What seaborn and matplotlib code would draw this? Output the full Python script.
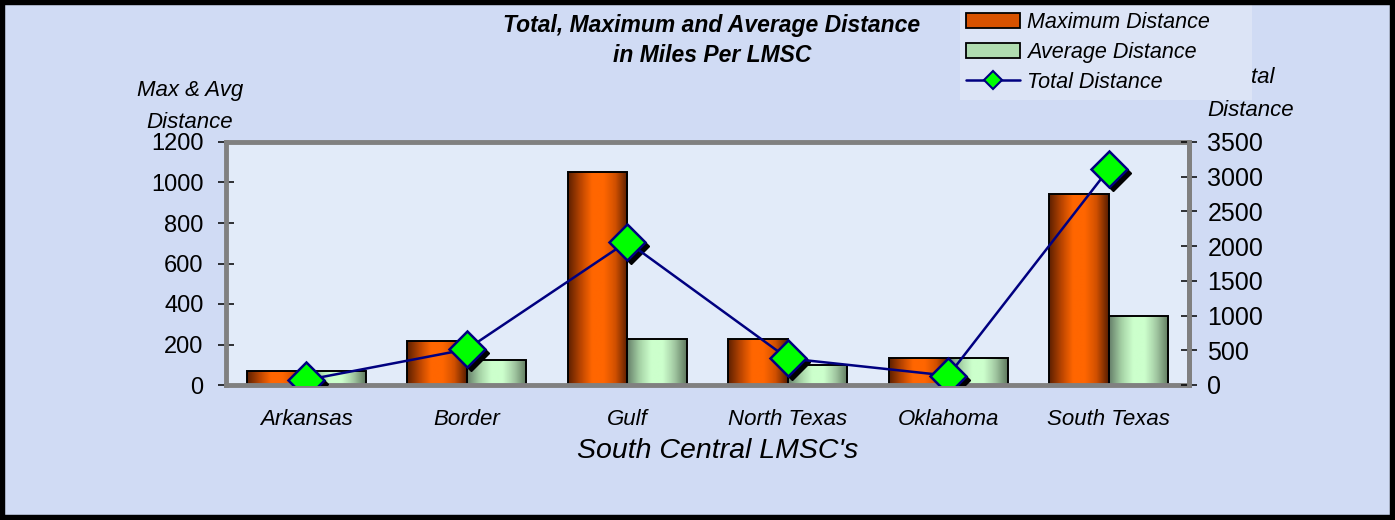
import numpy as np
import pandas as pd
import matplotlib
matplotlib.use("Agg")
import matplotlib.pyplot as plt
import matplotlib.transforms as mtransforms
from matplotlib.patches import Patch, Rectangle
from matplotlib.lines import Line2D
from matplotlib.colors import LinearSegmentedColormap
import seaborn as sns

# ---------------- data ----------------
categories = ["Arkansas", "Border", "Gulf", "North Texas", "Oklahoma", "South Texas"]
max_distance = [70, 219, 1053, 227, 135, 942]
avg_distance = [70, 123, 227, 99, 135, 342]
total_distance = [72, 514, 2064, 384, 134, 3111]
left_ticks = [0, 200, 400, 600, 800, 1000, 1200]
right_ticks = [0, 500, 1000, 1500, 2000, 2500, 3000, 3500]
series_names = ["Maximum Distance", "Average Distance", "Total Distance"]

df = pd.DataFrame({
    "LMSC": categories * 2,
    "Distance": max_distance + avg_distance,
    "Series": [series_names[0]] * len(categories) + [series_names[1]] * len(categories),
})

sns.set_theme(style="white")
plt.rcParams["font.family"] = ["Liberation Sans", "DejaVu Sans"]
for key in ["text.color", "axes.labelcolor", "xtick.color", "ytick.color"]:
    plt.rcParams[key] = "black"

W, H = 1395, 520
fig = plt.figure(figsize=(W / 100, H / 100), dpi=100)
fig.patch.set_facecolor("#d0dbf4")

L, R, T, B = 226, 1189, 142, 385
ax = fig.add_axes([L / W, 1 - B / H, (R - L) / W, (B - T) / H])
ax.set_facecolor("#e2ebf9")

orange = "#ff6600"
green = "#ccffcc"
sns.barplot(data=df, x="LMSC", y="Distance", hue="Series", order=categories,
            hue_order=series_names[:2], palette=[orange, green], saturation=1,
            width=0.74, gap=0, edgecolor="black", linewidth=1.4, ax=ax, legend=False)

# cylinder-like gradients on the bars
cmap_o = LinearSegmentedColormap.from_list("o", ["#5e2000", "#b84400", "#ff6600", "#ff6600", "#d05000", "#5a1e00"])
cmap_g = LinearSegmentedColormap.from_list("g", ["#66806a", "#a4d0a4", "#ccffcc", "#ccffcc", "#a2c8a2", "#5f7a5f"])
grad = np.linspace(0, 1, 64).reshape(1, -1)
bars = list(ax.patches)
n = len(categories)
for i, p in enumerate(bars):
    cm = cmap_o if i < n else cmap_g
    x0, w, h = p.get_x(), p.get_width(), p.get_height()
    im = ax.imshow(grad, extent=[x0, x0 + w, 0, h], aspect="auto", cmap=cm,
                   zorder=p.get_zorder() - 0.05, interpolation="bilinear")
    im.set_clip_path(p)
    p.set_facecolor("none")

ax.set_xlim(-0.5, n - 0.5)
ax.set_ylim(0, 1200)
ax.set_yticks(left_ticks)
ax.set_yticklabels([str(v) for v in left_ticks])
ax.set_xticks(np.arange(n + 1) - 0.5)
ax.set_xticklabels([""] * (n + 1))
ax.set_xticks(np.arange(n), minor=True)
ax.set_xticklabels(categories, minor=True, fontstyle="italic", fontsize=16)
ax.set_xlabel("")
ax.set_ylabel("")
ax.tick_params(axis="x", which="major", direction="inout", length=11, width=1.1, color="black")
ax.tick_params(axis="x", which="minor", length=0, pad=17)
ax.tick_params(axis="y", direction="inout", length=11.5, width=1.1, color="black",
               labelsize=17, pad=10.5, left=True)
for s in ax.spines.values():
    s.set_color("#808080")
    s.set_linewidth(3.5)

# total distance line on secondary axis
ax2 = ax.twinx()
xpos = np.arange(n)
shadow = mtransforms.offset_copy(ax2.transData, fig=fig, x=4, y=-4, units="dots")
ax2.plot(xpos, total_distance, linestyle="none", marker="D", markersize=18,
         color="black", transform=shadow, zorder=3)
sns.lineplot(x=xpos, y=total_distance, ax=ax2, color="#000080", linewidth=1.8,
             marker="D", markersize=18, markerfacecolor="#00ff00",
             markeredgecolor="#000080", markeredgewidth=1.8, zorder=4)
ax2.set_ylim(0, 3500)
ax2.set_yticks(right_ticks)
ax2.set_yticklabels([str(v) for v in right_ticks])
ax2.tick_params(axis="y", direction="inout", length=11.5, width=1.1, color="black",
                labelsize=18, pad=7.5, right=True)
ax2.set_ylabel("")
for k, s in ax2.spines.items():
    s.set_color("#808080")
    s.set_linewidth(3.5)
    if k != "right":
        s.set_visible(False)

# texts
fig.text(712 / W, 1 - 40.5 / H, "Total, Maximum and Average Distance\nin Miles Per LMSC",
         ha="center", va="center", fontsize=16.5, fontweight="bold", fontstyle="italic",
         linespacing=1.38)
fig.text(190 / W, 1 - 106.5 / H, "Max & Avg\nDistance", ha="center", va="center",
         fontsize=16, fontstyle="italic", linespacing=1.68)
fig.text(1251 / W, 1 - 94 / H, "Total\nDistance", ha="center", va="center",
         fontsize=16, fontstyle="italic", linespacing=1.7, zorder=2)
fig.text(718 / W, 1 - 451 / H, "South Central LMSC's", ha="center", va="center",
         fontsize=20.5, fontstyle="italic")

# legend box
fig.add_artist(Rectangle((960 / W, 1 - 100 / H), (1252 - 960) / W, 95 / H,
                         transform=fig.transFigure, facecolor="#dce4f6",
                         edgecolor="none", zorder=4))
handles = [
    Patch(facecolor="#d85200", edgecolor="black", linewidth=1.3),
    Patch(facecolor="#b0dcb0", edgecolor="black", linewidth=1.3),
    Line2D([], [], color="#000080", linewidth=1.8, marker="D", markersize=9,
           markerfacecolor="#00ff00", markeredgecolor="#000080", markeredgewidth=1.5),
]
leg = fig.legend(handles, series_names, loc="upper left",
                 bbox_to_anchor=(954 / W, 1 - 0 / H), frameon=False,
                 prop={"size": 15.5, "style": "italic"}, handlelength=2.5,
                 handleheight=0.7, handletextpad=0.35, labelspacing=0.42,
                 borderpad=0.05)
leg.set_zorder(5)

# outer black border
fig.add_artist(Rectangle((0, 0), 1, 1, transform=fig.transFigure, fill=False,
                         edgecolor="black", linewidth=7.5, zorder=10))

fig.savefig("out.png", dpi=100, facecolor=fig.get_facecolor())
